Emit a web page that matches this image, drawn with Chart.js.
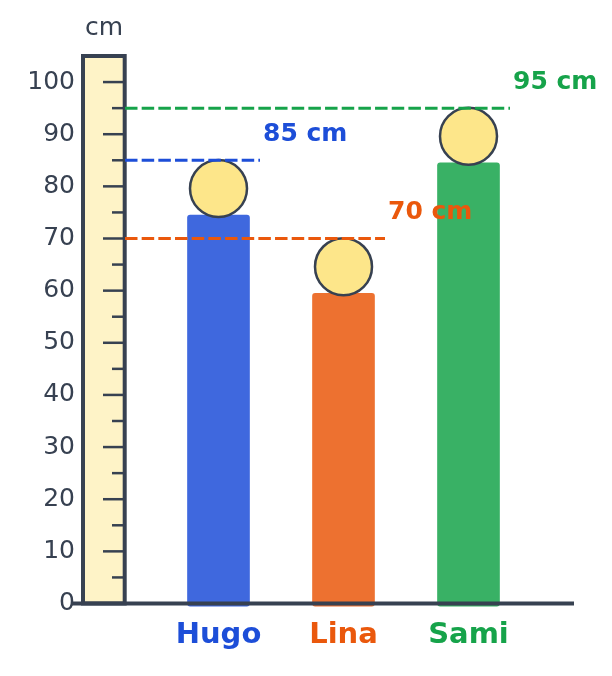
<!DOCTYPE html>
<html>
<head>
<meta charset="utf-8">
<style>
  html, body { margin: 0; padding: 0; background: #fff; }
  canvas { display: block; }
</style>
<script src="https://cdn.jsdelivr.net/npm/chart.js@4"></script>
</head>
<body>
<canvas id="myChart" width="612" height="676"></canvas>
<script>
const names = ["Hugo", "Lina", "Sami"];
const bodyValues = [74.5, 59.5, 84.5];
const headValues = [79.6, 64.6, 89.6];
const heights = [85, 70, 95];
const heightLabels = ["85 cm", "70 cm", "95 cm"];
const rulerTicks = [0, 5, 10, 15, 20, 25, 30, 35, 40, 45, 50, 55, 60, 65, 70, 75, 80, 85, 90, 95, 100];
const rulerTop = 105;
const unitLabel = "cm";

const ink = "#374151";
const nameColors = ["#1d4ed8", "#ea580c", "#16a34a"];
const barColors = ["rgba(29,78,216,0.85)", "rgba(234,88,12,0.85)", "rgba(22,163,74,0.85)"];
const fontFamily = "'DejaVu Sans'";

// ruler sits under the bars
const rulerPlugin = {
    id: "ruler",
    beforeDatasetsDraw(chart) {
        const ctx = chart.ctx;
        const y = chart.scales.y;
        ctx.save();
        ctx.fillStyle = "#fef3c7";
        ctx.strokeStyle = ink;
        ctx.lineWidth = 4;
        ctx.beginPath();
        ctx.moveTo(83, y.getPixelForValue(0));
        ctx.lineTo(83, y.getPixelForValue(rulerTop));
        ctx.lineTo(124.7, y.getPixelForValue(rulerTop));
        ctx.lineTo(124.7, y.getPixelForValue(0));
        ctx.closePath();
        ctx.fill();
        ctx.stroke();

        ctx.lineWidth = 2.5;
        rulerTicks.forEach((t) => {
            if (t === 0) return;
            let py = y.getPixelForValue(t);
            ctx.beginPath();
            ctx.moveTo(t % 10 === 0 ? 103 : 112, py);
            ctx.lineTo(125, py);
            ctx.stroke();
        });

        ctx.fillStyle = ink;
        ctx.font = "25px " + fontFamily;
        ctx.textAlign = "center";
        ctx.textBaseline = "middle";
        ctx.fillText(unitLabel, 104, 28);
        ctx.restore();
    }
};

// dashed height lines, their labels and the base line
const overlayPlugin = {
    id: "overlay",
    afterDatasetsDraw(chart) {
        const ctx = chart.ctx;
        const x = chart.scales.x;
        const y = chart.scales.y;
        ctx.save();
        names.forEach((n, i) => {
            let py = y.getPixelForValue(heights[i]);
            let end = x.getPixelForValue(i) + 41.5;
            ctx.strokeStyle = nameColors[i];
            ctx.lineWidth = 3;
            ctx.setLineDash([12.5, 4.17]);
            ctx.beginPath();
            ctx.moveTo(125, py);
            ctx.lineTo(end, py);
            ctx.stroke();

            ctx.fillStyle = nameColors[i];
            ctx.font = "bold 25px " + fontFamily;
            ctx.textAlign = "left";
            ctx.textBaseline = "middle";
            ctx.fillText(heightLabels[i], end + 3, py - 26);
        });
        ctx.setLineDash([]);
        ctx.strokeStyle = ink;
        ctx.lineWidth = 4;
        ctx.beginPath();
        ctx.moveTo(72, y.getPixelForValue(0));
        ctx.lineTo(574, y.getPixelForValue(0));
        ctx.stroke();
        ctx.restore();
    }
};

const myChart = new Chart(document.getElementById("myChart"), {
    type: "bar",
    data: {
        labels: names,
        datasets: [
            {
                type: "line",
                label: "Head",
                data: headValues,
                showLine: false,
                pointRadius: 28.5,
                pointBackgroundColor: "#fde68a",
                pointBorderColor: ink,
                pointBorderWidth: 2.5,
                clip: false,
                order: 1,
            },
            {
                label: "Body",
                data: bodyValues,
                backgroundColor: barColors,
                barThickness: 62,
                base: -0.5,
                borderRadius: 3,
                borderSkipped: false,
                clip: false,
                order: 2,
            },
        ],
    },
    options: {
        responsive: false,
        animation: false,
        events: [],
        layout: { padding: { top: 56, right: 81, bottom: 0, left: 0 } },
        plugins: { legend: { display: false }, tooltip: { enabled: false } },
        scales: {
            x: {
                grid: { display: false },
                border: { display: false },
                afterFit: (s) => { s.height = 72.5; },
                ticks: {
                    padding: 6.5,
                    maxRotation: 0,
                    color: (c) => nameColors[c.index],
                    font: { family: fontFamily, size: 29, weight: "bold" },
                },
            },
            y: {
                min: 0,
                max: rulerTop,
                // the ruler draws its own ticks, this only pushes the labels left of it
                grid: { drawOnChartArea: false, tickColor: "rgba(0,0,0,0)", tickLength: 78 },
                border: { display: false },
                afterFit: (s) => { s.width = 156; },
                afterBuildTicks: (s) => { s.ticks = rulerTicks.map((v) => ({ value: v })); },
                ticks: {
                    autoSkip: false,
                    padding: 3,
                    color: ink,
                    font: { family: fontFamily, size: 25 },
                    callback: (v) => (v % 10 === 0 ? String(v) : ""),
                },
            },
        },
    },
    plugins: [rulerPlugin, overlayPlugin],
});
</script>
</body>
</html>
